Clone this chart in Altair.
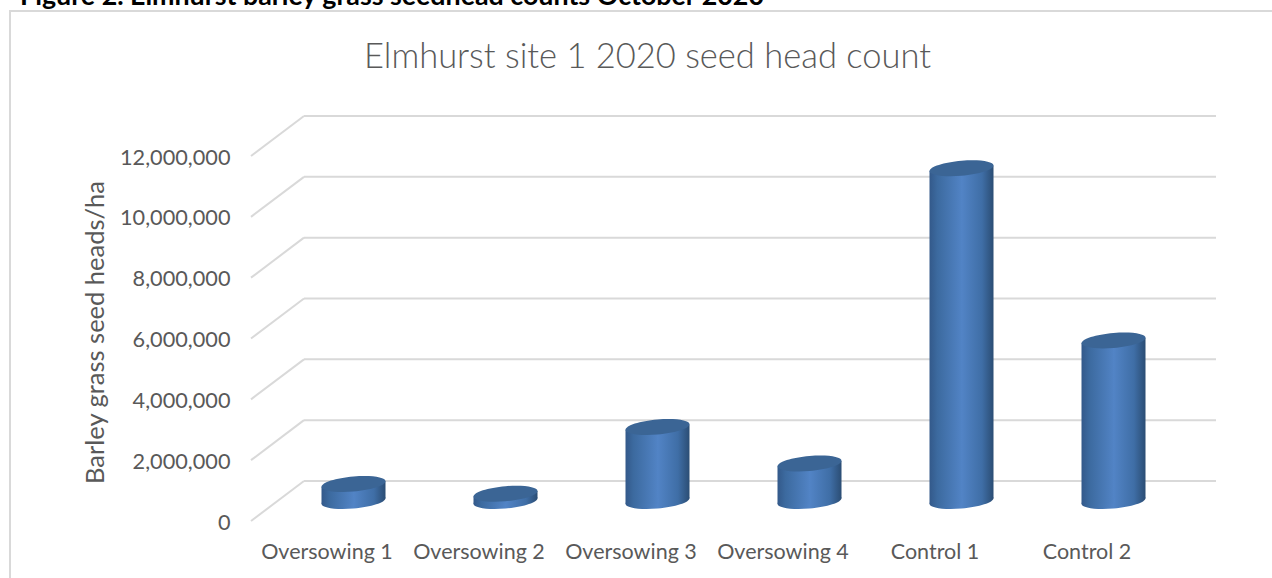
import altair as alt
import pandas as pd

categories = ["Oversowing 1", "Oversowing 2", "Oversowing 3", "Oversowing 4", "Control 1", "Control 2"]
seed_heads = [560000, 240000, 2430000, 1230000, 10940000, 5280000]
tick_values = [0, 2000000, 4000000, 6000000, 8000000, 10000000, 12000000]

FONT = "Lato"
TEXT = "#595959"
GRID = "#d9d9d9"
WIDTH, HEIGHT = 912, 365
LEFT, TOP = 251, 156
DEPTH_X, DEPTH_Y = 53, 40  # shift of the back wall from the front plane
BAR_W = 64
TILT, ROUND = 0.085, 0.235  # ellipse shear and flatness, in symbol units


def ellipse_path(a, b, k=0.5523):
    """Sheared ellipse as a unit-symbol SVG path for the cylinder caps."""
    pts = [(1, 0), (1, k), (k, 1), (0, 1), (-k, 1), (-1, k), (-1, 0),
           (-1, -k), (-k, -1), (0, -1), (k, -1), (1, -k), (1, 0)]
    tr = [(u, -a * u + b * v) for u, v in pts]
    s = f"M{tr[0][0]:.4f},{tr[0][1]:.4f}"
    for i in range(1, 13, 3):
        s += "C" + " ".join(f"{x:.4f},{y:.4f}" for x, y in tr[i:i + 3])
    return s + "Z"


CAP = ellipse_path(TILT, ROUND)

bars = pd.DataFrame({"cat": categories, "v": seed_heads, "base": [0] * 6})
ticks = pd.DataFrame({"t": tick_values})
ticks["t_back"] = ticks["t"] + DEPTH_Y / HEIGHT * 12000000

x_axis = alt.Axis(title=None, domain=False, ticks=False, labelAngle=0, labelPadding=20,
                  labelFont=FONT, labelFontSize=21.5, labelColor=TEXT, grid=False)
y_axis = alt.Axis(
    title="Barley grass seed heads/ha", values=tick_values, format=",.0f", domain=False, ticks=False,
    grid=False, labelPadding=21, labelOffset=1, labelFont=FONT, labelFontSize=21.7, labelColor=TEXT,
    titleFont=FONT, titleFontSize=25.5, titleColor=TEXT, titleFontWeight="normal",
    titleX=108 - LEFT, titleY=332 - TOP, titleAnchor="middle", titleAlign="center",
)
x = alt.X("cat:N", sort=categories, scale=alt.Scale(paddingInner=0, paddingOuter=0), axis=x_axis)
y_scale = alt.Scale(domain=[0, 12000000], nice=False)


def y(field):
    return alt.Y(field, scale=y_scale, axis=y_axis)


# wall gridlines and the diagonals running back from the front plane
wall = alt.Chart(ticks).mark_rule(color=GRID, strokeWidth=2, xOffset=DEPTH_X, x2Offset=DEPTH_X,
                                  yOffset=-DEPTH_Y).encode(
    x=alt.value(0), x2=alt.value(WIDTH), y=y("t:Q"),
)
diagonals = alt.Chart(ticks).mark_rule(color=GRID, strokeWidth=2).encode(
    x=alt.value(0), x2=alt.value(DEPTH_X), y=y("t:Q"), y2="t_back:Q",
)


def shade(stops):
    return alt.Gradient(gradient="linear", x1=0, x2=1, y1=0, y2=0,
                        stops=[alt.GradientStop(offset=o, color=c) for o, c in stops])


full = [(0, "#33598a"), (0.12, "#3c6a9f"), (0.5, "#5284c6"), (0.82, "#3f6ea6"), (1, "#2b4d74")]
left = [(0, "#33598a"), (0.24, "#3c6a9f"), (1, "#5284c6")]
right = [(0, "#5284c6"), (0.64, "#3f6ea6"), (1, "#2b4d74")]

mid_x = DEPTH_X / 2
mid_y = -DEPTH_Y / 2
side = 2.7  # vertical drop of the cap's edge at each side of the cylinder

# each cylinder: lower cap, two half bodies stepped to follow the tilt, upper cap
bottom_cap = alt.Chart(bars).mark_point(shape=CAP, size=BAR_W ** 2, filled=True, opacity=1, stroke=None,
                                        fill=shade(full), xOffset=mid_x, yOffset=mid_y).encode(
    x=x, y=y("base:Q"))
left_body = alt.Chart(bars).mark_bar(size=BAR_W / 2 + 1, fill=shade(left), xOffset=mid_x - BAR_W / 4 + 0.5,
                                     yOffset=mid_y + side, y2Offset=mid_y + side).encode(
    x=x, y=y("v:Q"), y2="base:Q")
right_body = alt.Chart(bars).mark_bar(size=BAR_W / 2, fill=shade(right), xOffset=mid_x + BAR_W / 4,
                                      yOffset=mid_y - side, y2Offset=mid_y - side).encode(
    x=x, y=y("v:Q"), y2="base:Q")
top_cap = alt.Chart(bars).mark_point(shape=CAP, size=BAR_W ** 2, filled=True, opacity=1, stroke=None,
                                     fill="#3b6595", xOffset=mid_x, yOffset=mid_y).encode(
    x=x, y=y("v:Q"))

# outer frame (open on the right) and the texts above the plot
frame = alt.Chart(pd.DataFrame({"a": [0]})).mark_rect(fill="transparent", stroke=GRID, strokeWidth=2).encode(
    x=alt.value(10 - LEFT), x2=alt.value(1300 - LEFT),
    y=alt.value(11 - TOP), y2=alt.value(640 - TOP),
)
title = alt.Chart(pd.DataFrame({"s": ["Elmhurst site 1 2020 seed head count"]})).mark_text(
    font=FONT, fontSize=34.5, fontWeight=300, color=TEXT, align="center", baseline="middle",
).encode(x=alt.value(647.5 - LEFT), y=alt.value(58 - TOP), text="s:N")
caption = alt.Chart(pd.DataFrame({"s": ["Figure 2. Elmhurst barley grass seedhead counts October 2020"]})).mark_text(
    font=FONT, fontSize=26.8, fontWeight="bold", color="black", align="left", baseline="alphabetic",
).encode(x=alt.value(20 - LEFT), y=alt.value(5 - TOP), text="s:N")

chart = alt.layer(frame, wall, diagonals, bottom_cap, left_body, right_body, top_cap, title, caption).properties(
    width=WIDTH, height=HEIGHT, background="white",
    padding={"left": LEFT, "top": TOP, "right": 1272 - LEFT - WIDTH, "bottom": 578 - TOP - HEIGHT},
    autosize=alt.AutoSizeParams(type="none"),
).configure_view(stroke=None)

chart.save("out.html", embed_options={"renderer": "svg", "actions": False})
